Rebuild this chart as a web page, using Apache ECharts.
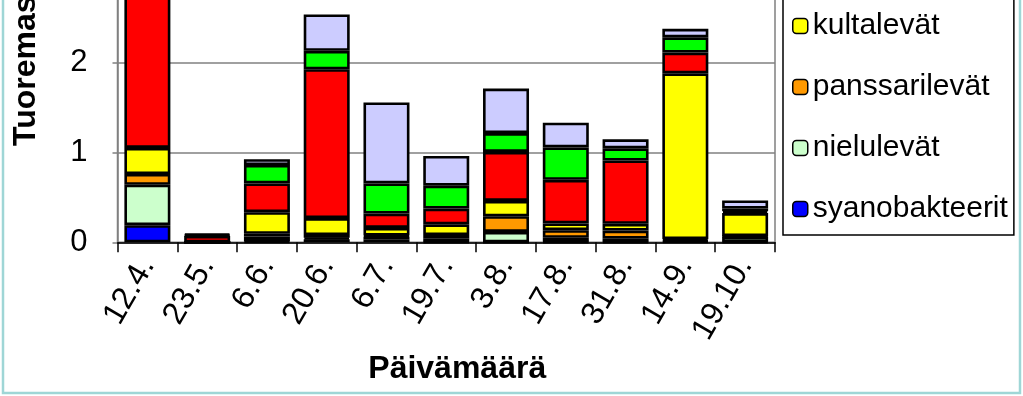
<!DOCTYPE html>
<html>
<head>
<meta charset="utf-8">
<script src="https://cdn.jsdelivr.net/npm/echarts@6/dist/echarts.min.js"></script>
<style>
html,body{margin:0;padding:0;background:#fff;}
#chart{width:1023px;height:396px;}
</style>
</head>
<body>
<div id="chart"></div>
<script>
var categories = ['12.4.','23.5.','6.6.','20.6.','6.7.','19.7.','3.8.','17.8.','31.8.','14.9.','19.10.'];
var syanobakteerit = [0.19, 0, 0.01, 0.035, 0.035, 0.005, 0, 0.005, 0.005, 0.01, 0.005];
var nielulevat     = [0.45, 0, 0.055, 0.015, 0.03, 0.04, 0.115, 0.045, 0.035, 0.01, 0.06];
var panssarilevat  = [0.12, 0, 0.03, 0.03, 0.01, 0.035, 0.175, 0.085, 0.09, 0.015, 0.005];
var kultalevat     = [0.29, 0, 0.24, 0.19, 0.085, 0.12, 0.17, 0.075, 0.075, 1.845, 0.255];
var piilevat       = [1.95, 0.07, 0.32, 1.655, 0.16, 0.175, 0.545, 0.485, 0.705, 0.23, 0.02];
var viherlevat     = [0.1, 0.01, 0.205, 0.205, 0.335, 0.255, 0.21, 0.36, 0.135, 0.17, 0.03];
var muut           = [0.15, 0.015, 0.065, 0.405, 0.9, 0.33, 0.495, 0.275, 0.1, 0.095, 0.09];
var yTicks = [0, 1, 2, 3, 4];

var FONT = 'Liberation Sans, Arial, sans-serif';
var seriesDefs = [
  {name:'syanobakteerit', data:syanobakteerit, color:'#0000FF'},
  {name:'nielulevät', data:nielulevat, color:'#CCFFCC'},
  {name:'panssarilevät', data:panssarilevat, color:'#FF9900'},
  {name:'kultalevät', data:kultalevat, color:'#FFFF00'},
  {name:'piilevät', data:piilevat, color:'#FF0000'},
  {name:'viherlevät', data:viherlevat, color:'#00FF00'},
  {name:'muut', data:muut, color:'#CCCCFF'}
];

var chart = echarts.init(document.getElementById('chart'), null, {renderer:'canvas'});
chart.setOption({
  animation:false,
  backgroundColor:'#fff',
  textStyle:{fontFamily:FONT},
  grid:{left:117.5, right:248, bottom:153.7, top:-117.3, outerBoundsMode:'none', containLabel:false,
        show:true, borderColor:'#808080', borderWidth:1.5, backgroundColor:'#fff'},
  legend:{
    orient:'vertical', left:783, bottom:161, height:440,
    data:seriesDefs.map(function(s){return s.name;}).reverse(),
    itemWidth:15, itemHeight:15, itemGap:31,
    padding:[14, 6, 11, 9],
    borderColor:'#000', borderWidth:1.5, backgroundColor:'#fff',
    itemStyle:{borderColor:'#000', borderWidth:1.5},
    textStyle:{fontSize:30, lineHeight:30, color:'#000', fontFamily:FONT}
  },
  xAxis:{
    type:'category', data:categories,
    name:'Päivämäärä', nameLocation:'middle', nameGap:108,
    nameTextStyle:{fontSize:32, fontWeight:'bold', color:'#000', fontFamily:FONT, padding:[0,0,0,22]},
    axisLine:{lineStyle:{color:'#000', width:1.5}},
    axisTick:{show:true, length:10, lineStyle:{color:'#000', width:1.5}},
    axisLabel:{rotate:60, interval:0, fontSize:32, color:'#000', margin:18, fontFamily:FONT}
  },
  yAxis:{
    type:'value', min:yTicks[0], max:yTicks[yTicks.length-1], interval:1,
    axisLine:{show:true, lineStyle:{color:'#808080', width:1.5}},
    axisTick:{show:true, length:5, lineStyle:{color:'#808080', width:1.5}},
    splitLine:{show:true, lineStyle:{color:'#808080', width:1.5}},
    axisLabel:{fontSize:31, color:'#000', margin:30, fontFamily:FONT}
  },
  graphic:[
    {type:'rect', z:100, silent:true, shape:{x:3, y:-10, width:1017, height:403}, style:{fill:'none', stroke:'#9fd6d6', lineWidth:2.5}},
    {type:'text', z:100, x:26, y:146, rotation:Math.PI/2,
     style:{text:'Tuoremassa (mg/l)', fontSize:32, fontWeight:'bold', fontFamily:FONT, fill:'#000',
            textAlign:'left', textVerticalAlign:'middle', align:'left', verticalAlign:'middle'}}
  ],
  series:seriesDefs.map(function(s){
    return {
      name:s.name, type:'bar', stack:'total', data:s.data, barWidth:46,
      itemStyle:{color:s.color, borderColor:'#000', borderWidth:2.6}
    };
  })
});
</script>
</body>
</html>
